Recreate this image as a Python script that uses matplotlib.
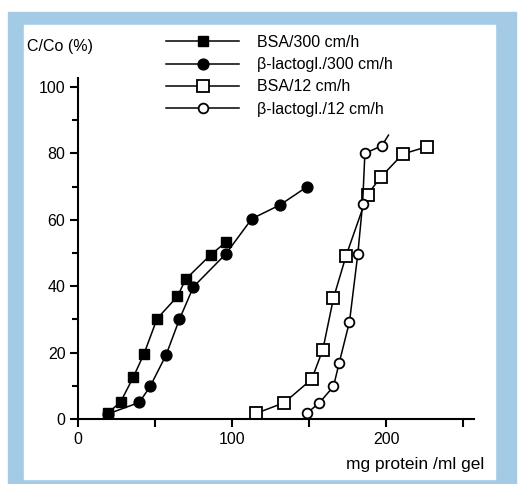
import matplotlib.pyplot as plt
from matplotlib.patches import Rectangle

plt.rcParams['font.family'] = ['Liberation Sans', 'DejaVu Sans']

# breakthrough curves, C/Co (%) vs loaded protein (mg protein / ml gel)
bsa300_x = [19.3, 27.7, 35.9, 42.9, 51.3, 64.5, 69.9, 86.2, 95.9]
bsa300_y = [1.7, 5.2, 12.6, 19.7, 30.2, 36.9, 42.1, 49.5, 53.2]

blg300_x = [19.3, 39.8, 46.8, 57.1, 65.8, 74.9, 95.9, 112.8, 131.2, 148.5]
blg300_y = [1.5, 5.0, 9.8, 19.2, 30.0, 39.8, 49.7, 60.3, 64.5, 69.9]

bsa12_x = [115.6, 133.8, 151.7, 158.9, 165.8, 174.0, 187.9, 196.6, 210.8, 226.4]
bsa12_y = [1.7, 4.9, 12.0, 20.9, 36.4, 49.2, 67.6, 72.9, 79.8, 82.0]

blg12_x = [148.5, 156.7, 165.8, 169.5, 176.2, 181.6, 184.7, 186.2, 197.2, 201.5]
blg12_y = [1.7, 4.9, 9.8, 16.9, 29.3, 49.7, 64.8, 80.0, 82.3, 85.5]

labels = ['BSA/300 cm/h', 'β-lactogl./300 cm/h', 'BSA/12 cm/h', 'β-lactogl./12 cm/h']

W, H = 524, 484
fig = plt.figure(figsize=(W / 100, H / 100), dpi=100)

# blue frame around a white panel
fig.patches.append(Rectangle((8 / W, 0), 508 / W, 472 / H,
                             transform=fig.transFigure, color='#a4cbe6', zorder=-10))
fig.patches.append(Rectangle((24 / W, 1 - 479 / H), 471 / W, 454 / H,
                             transform=fig.transFigure, color='white', zorder=-9))

ax = fig.add_axes([78 / W, (H - 419) / H, (474 - 78) / W, (419 - 78) / H])
ax.set_zorder(5)
ax.patch.set_alpha(0)

lw = 1.1
h1, = ax.plot(bsa300_x, bsa300_y, '-', color='black', lw=lw, marker='s', ms=7.5,
              mfc='black', mec='black')
h2, = ax.plot(blg300_x, blg300_y, '-', color='black', lw=lw, marker='o', ms=7.8,
              mfc='black', mec='black')
h3, = ax.plot(bsa12_x, bsa12_y, '-', color='black', lw=lw, marker='s', ms=9,
              mfc='white', mec='black', mew=1.3)
h4, = ax.plot(blg12_x, blg12_y, '-', color='black', lw=lw, marker='o', ms=7,
              mfc='white', mec='black', mew=1.3, markevery=list(range(len(blg12_x) - 1)))

ax.set_xlim(0, 257)
ax.set_ylim(0, 102.7)
ax.spines['top'].set_visible(False)
ax.spines['right'].set_visible(False)
ax.spines['left'].set_linewidth(1.5)
ax.spines['bottom'].set_linewidth(1.5)

ax.set_xticks([0, 100, 200])
ax.set_xticks([50, 150, 250], minor=True)
ax.set_yticks([0, 20, 40, 60, 80, 100])
ax.set_yticks([10, 30, 50, 70, 90], minor=True)
ax.tick_params(axis='both', which='major', direction='out', length=6, width=1.5,
               labelsize=11.5, pad=3)
ax.tick_params(axis='x', which='minor', direction='out', length=6, width=1.5)
ax.tick_params(axis='y', which='minor', direction='out', length=4, width=1.5)

fig.text(484 / W, 1 - 465 / H, 'mg protein /ml gel', ha='right', va='center', fontsize=12.5)
fig.text(27 / W, 1 - 47 / H, 'C/Co (%)', ha='left', va='center', fontsize=11.5)

fig.legend([h1, h2, h3, h4], labels, loc='upper left',
           bbox_to_anchor=(166 / W, 1 - 35 / H), frameon=False, fontsize=11.5,
           handlelength=4.6, handletextpad=1.1, labelspacing=0.45, numpoints=1,
           borderaxespad=0, borderpad=0)

fig.savefig('out.png', dpi=100)
